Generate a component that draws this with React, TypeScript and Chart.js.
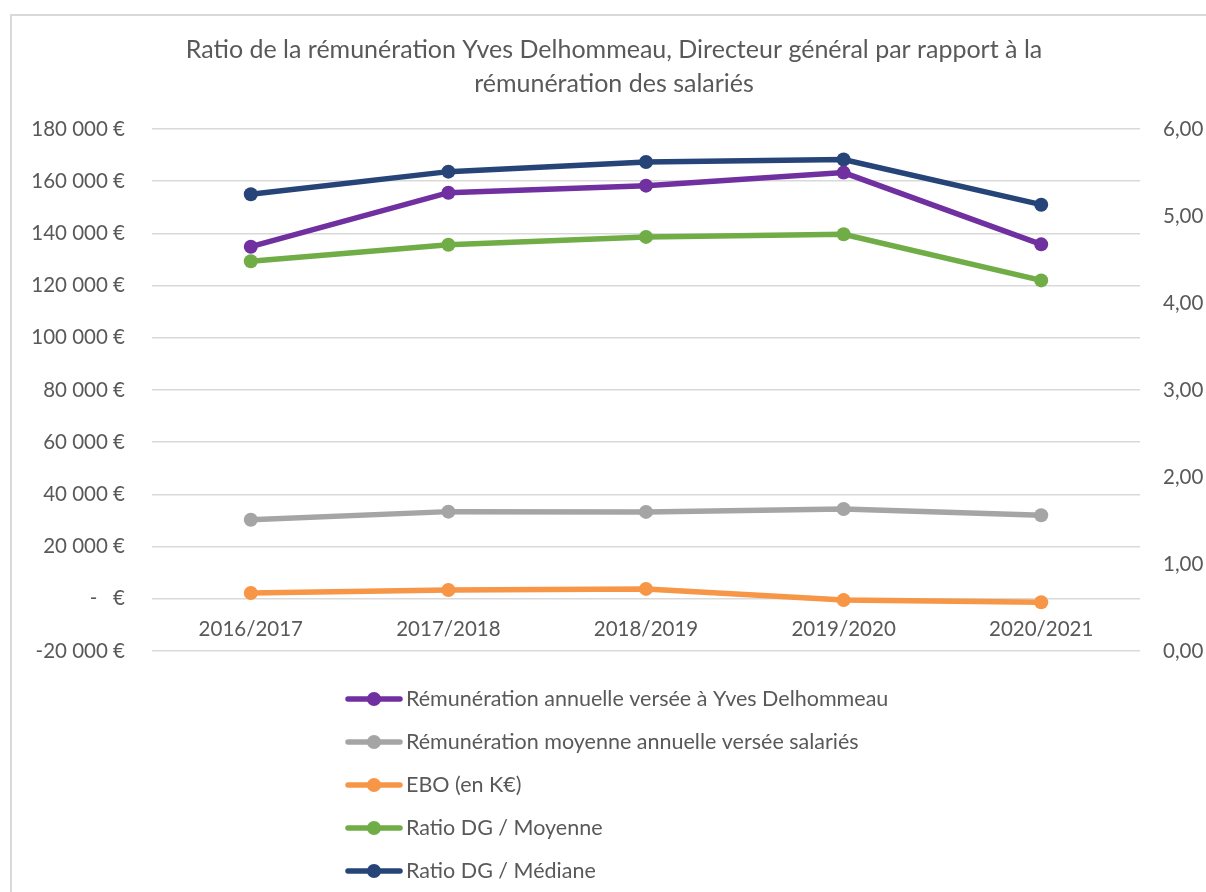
import React, { useEffect, useRef } from "react";
import { Chart, registerables } from "chart.js";

Chart.register(...registerables);

const categories = ["2016/2017", "2017/2018", "2018/2019", "2019/2020", "2020/2021"];
const remunerationDG = [134900, 155600, 158300, 163300, 135800];
const remunerationMoyenne = [30300, 33400, 33300, 34400, 32000];
const eboKEuros = [2200, 3400, 3800, -500, -1300];
const ratioDGMoyenne = [4.48, 4.67, 4.76, 4.79, 4.26];
const ratioDGMediane = [5.25, 5.51, 5.62, 5.65, 5.13];

const seriesLabels = [
  "Rémunération annuelle versée à Yves Delhommeau",
  "Rémunération moyenne annuelle versée salariés",
  "EBO (en K€)",
  "Ratio DG / Moyenne",
  "Ratio DG / Médiane",
];
const seriesColors = ["#7030A0", "#A5A5A5", "#F79646", "#70AD47", "#264478"];
const titleLines = [
  "Ratio de la rémunération Yves Delhommeau, Directeur général par rapport à la",
  "rémunération des salariés",
];

const leftMin = -20000;
const leftMax = 180000;
const leftStep = 20000;
const rightMin = 0;
const rightMax = 6;
const rightStep = 1;

const FONT = "Lato, 'Open Sans', sans-serif";
const TEXT = "#595959";
const GRID = "#D9D9D9";

function formatEuro(v: number): string {
  if (v === 0) return "-   €";
  const sign = v < 0 ? "-" : "";
  const s = Math.abs(v).toString().replace(/\B(?=(\d{3})+(?!\d))/g, " ");
  return sign + s + " €";
}

const framePlugin = {
  id: "frame",
  beforeDraw(chart: any) {
    const ctx = chart.ctx;
    ctx.save();
    ctx.strokeStyle = GRID;
    ctx.lineWidth = 2;
    ctx.beginPath();
    ctx.moveTo(11, chart.height);
    ctx.lineTo(11, 15);
    ctx.lineTo(chart.width, 15);
    ctx.stroke();
    ctx.restore();
  },
};

const verticalLegendPlugin = {
  id: "verticalLegend",
  afterDraw(chart: any) {
    const ctx = chart.ctx;
    const x0 = 348;
    const top = 699;
    const gap = 43;
    ctx.save();
    chart.data.datasets.forEach((ds: any, i: number) => {
      const y = top + i * gap;
      ctx.strokeStyle = ds.borderColor;
      ctx.lineWidth = 5.5;
      ctx.lineCap = "round";
      ctx.beginPath();
      ctx.moveTo(x0, y);
      ctx.lineTo(x0 + 52, y);
      ctx.stroke();
      ctx.fillStyle = ds.borderColor;
      ctx.beginPath();
      ctx.arc(x0 + 26, y, 7, 0, Math.PI * 2);
      ctx.fill();
      ctx.fillStyle = TEXT;
      ctx.font = `21.5px ${FONT}`;
      ctx.textAlign = "left";
      ctx.textBaseline = "middle";
      ctx.fillText(ds.label, x0 + 58, y);
    });
    ctx.restore();
  },
};

export default function App() {
  const canvasRef = useRef<HTMLCanvasElement | null>(null);

  useEffect(() => {
    if (!canvasRef.current) return;
    const allData = [remunerationDG, remunerationMoyenne, eboKEuros, ratioDGMoyenne, ratioDGMediane];
    const axes = ["y", "y", "y", "y1", "y1"];
    const chart = new Chart(canvasRef.current, {
      type: "line",
      data: {
        labels: categories,
        datasets: allData.map((d, i) => ({
          label: seriesLabels[i],
          data: d,
          yAxisID: axes[i],
          borderColor: seriesColors[i],
          backgroundColor: seriesColors[i],
          pointBackgroundColor: seriesColors[i],
          pointBorderWidth: 0,
          pointRadius: 7,
          borderWidth: 5.5,
          tension: 0,
          fill: false,
        })),
      },
      options: {
        responsive: false,
        animation: false,
        layout: { padding: { left: 22, right: 0, top: 0, bottom: 241 } },
        plugins: {
          legend: { display: false },
          tooltip: { enabled: false },
          title: {
            display: true,
            text: titleLines,
            color: TEXT,
            font: { family: FONT, size: 25, weight: "normal", lineHeight: 1.36 },
            padding: { top: 33, bottom: 28 },
          },
        },
        scales: {
          x: {
            type: "category",
            offset: true,
            position: { y: 0 } as any,
            grid: { display: false, drawTicks: false, offset: true },
            border: { display: false },
            ticks: { color: TEXT, font: { family: FONT, size: 20.5 }, padding: 18 },
          },
          y: {
            position: "left",
            min: leftMin,
            max: leftMax,
            grid: { color: GRID, lineWidth: 1.5, drawTicks: false },
            border: { display: false },
            ticks: {
              stepSize: leftStep,
              color: TEXT,
              font: { family: FONT, size: 20.5 },
              padding: 27,
              callback: (v: any) => formatEuro(Number(v)),
            },
            afterFit: (scale: any) => {
              scale.width = 130;
            },
          },
          y1: {
            position: "right",
            min: rightMin,
            max: rightMax,
            grid: { display: false, drawTicks: false },
            border: { display: false },
            ticks: {
              stepSize: rightStep,
              color: TEXT,
              font: { family: FONT, size: 20.5 },
              padding: 23,
              callback: (v: any) => Number(v).toFixed(2).replace(".", ","),
            },
            afterFit: (scale: any) => {
              scale.width = 66;
            },
          },
        },
      },
      plugins: [framePlugin, verticalLegendPlugin],
    });
    return () => chart.destroy();
  }, []);

  return (
    <div style={{ position: "fixed", left: 0, top: 0, width: 1206, height: 892, background: "#fff" }}>
      <canvas ref={canvasRef} width={1206} height={892} style={{ width: 1206, height: 892 }} />
    </div>
  );
}
